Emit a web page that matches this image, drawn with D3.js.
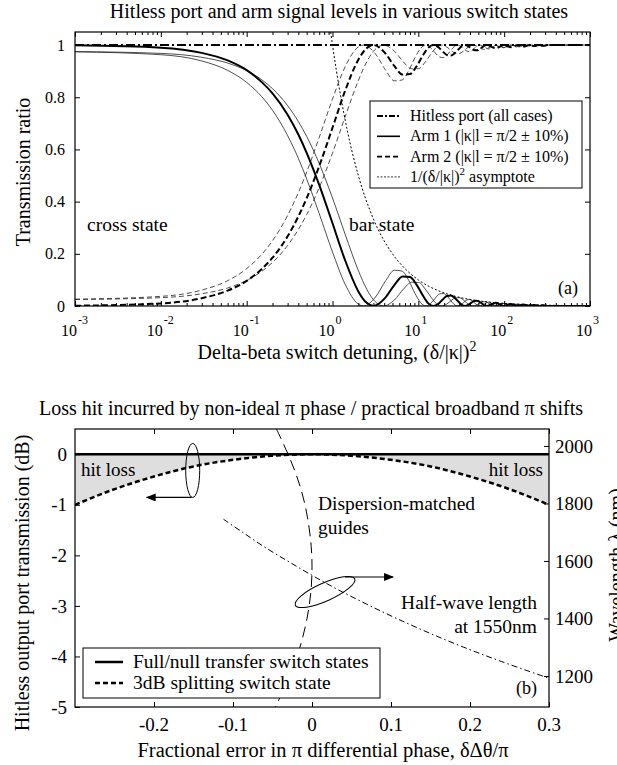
<!DOCTYPE html>
<html>
<head>
<meta charset="utf-8">
<script src="https://cdn.jsdelivr.net/npm/d3@7"></script>
<style>
  body { margin: 0; background: #fff; }
  text { font-family: "Liberation Serif", "Times New Roman", serif; fill: #000; }
</style>
</head>
<body>
<svg id="fig" width="617" height="765"></svg>
<script>
// ---------- panel (a): coupler transmission vs detuning (delta/|kappa|)^2 ----------
// |kappa|l = 0.9 * pi/2
const detune09 = [0.001, 0.01, 0.03, 0.06, 0.1, 0.15, 0.2, 0.3, 0.4, 0.5, 0.7, 1.0, 1.4, 2.0, 2.5, 3.0, 3.94, 5.25, 6.72, 8.34, 10.11, 12.04, 14.12, 16.36, 18.75, 21.3, 24, 26.85, 29.86, 33.03, 36.35, 39.82, 43.44, 47.23, 51.16, 55.25, 59.49, 63.89, 68.44, 73.15, 78.01, 88.2, 99, 110.4, 122.5, 148.4, 176.8, 207.6, 241, 276.8, 315, 1000];
const arm1k09 = [0.975, 0.968, 0.953, 0.931, 0.902, 0.867, 0.833, 0.768, 0.707, 0.650, 0.546, 0.414, 0.276, 0.136, 0.065, 0.024, 0, 0.023, 0.065, 0.091, 0.090, 0.065, 0.033, 0.008, 0, 0.007, 0.020, 0.031, 0.032, 0.025, 0.013, 0.004, 0, 0.003, 0.010, 0.015, 0.017, 0.013, 0.007, 0.002, 0, 0.006, 0.010, 0.004, 0, 0.007, 0, 0.005, 0, 0.004, 0, 0];
const arm2k09 = [0.025, 0.032, 0.047, 0.069, 0.098, 0.133, 0.167, 0.232, 0.293, 0.350, 0.454, 0.586, 0.724, 0.864, 0.935, 0.976, 1, 0.977, 0.935, 0.909, 0.910, 0.935, 0.967, 0.992, 1, 0.993, 0.980, 0.969, 0.968, 0.975, 0.987, 0.996, 1, 0.997, 0.990, 0.985, 0.983, 0.987, 0.993, 0.998, 1, 0.994, 0.990, 0.996, 1, 0.993, 1, 0.995, 1, 0.996, 1, 1];

// |kappa|l = pi/2
const detune10 = [0.001, 0.01, 0.03, 0.06, 0.1, 0.15, 0.2, 0.3, 0.4, 0.5, 0.7, 1.0, 1.4, 2.0, 2.5, 3, 4.06, 5.25, 6.56, 8, 9.56, 11.25, 13.06, 15, 17.06, 19.25, 21.56, 24, 26.56, 29.25, 32.06, 35, 38.06, 41.25, 44.56, 48, 51.56, 55.25, 59.06, 63, 71.25, 80, 89.25, 99, 109.3, 120, 131.3, 143, 168, 195, 224, 255, 288, 323, 1000];
const arm1k10 = [0.999, 0.990, 0.970, 0.941, 0.904, 0.858, 0.815, 0.733, 0.657, 0.587, 0.464, 0.317, 0.176, 0.056, 0.012, 0, 0.029, 0.080, 0.113, 0.111, 0.081, 0.041, 0.010, 0, 0.008, 0.025, 0.038, 0.040, 0.031, 0.017, 0.004, 0, 0.004, 0.012, 0.019, 0.020, 0.016, 0.009, 0.002, 0, 0.007, 0.012, 0.006, 0, 0.005, 0.008, 0.004, 0, 0.006, 0, 0.004, 0, 0.003, 0, 0];
const arm2k10 = [0.001, 0.010, 0.030, 0.059, 0.096, 0.142, 0.185, 0.267, 0.343, 0.413, 0.536, 0.683, 0.824, 0.944, 0.988, 1, 0.971, 0.920, 0.887, 0.889, 0.919, 0.959, 0.990, 1, 0.992, 0.975, 0.962, 0.960, 0.969, 0.983, 0.996, 1, 0.996, 0.988, 0.981, 0.980, 0.984, 0.991, 0.998, 1, 0.993, 0.988, 0.994, 1, 0.995, 0.992, 0.996, 1, 0.994, 1, 0.996, 1, 0.997, 1, 1];

// |kappa|l = 1.1 * pi/2
const detune11 = [0.001, 0.01, 0.03, 0.06, 0.1, 0.15, 0.2, 0.3, 0.4, 0.5, 0.7, 1.0, 1.4, 2.0, 2.31, 3.18, 4.17, 5.25, 6.44, 7.73, 9.12, 10.62, 12.22, 13.93, 15.74, 17.65, 19.66, 21.78, 24, 26.32, 28.75, 31.28, 33.92, 36.66, 39.5, 42.44, 45.49, 48.64, 51.89, 58.71, 65.94, 73.59, 81.64, 90.12, 99, 108.3, 118, 138.7, 161, 185, 210.6, 237.8, 266.8, 1000];
const arm1k11 = [0.974, 0.963, 0.939, 0.903, 0.857, 0.802, 0.750, 0.653, 0.566, 0.487, 0.354, 0.207, 0.084, 0.007, 0, 0.035, 0.097, 0.137, 0.134, 0.098, 0.049, 0.013, 0, 0.010, 0.030, 0.046, 0.048, 0.037, 0.020, 0.005, 0, 0.005, 0.014, 0.023, 0.025, 0.020, 0.011, 0.003, 0, 0.008, 0.015, 0.007, 0, 0.005, 0.010, 0.005, 0, 0.007, 0, 0.005, 0, 0.004, 0, 0];
const arm2k11 = [0.026, 0.037, 0.061, 0.097, 0.143, 0.198, 0.250, 0.347, 0.434, 0.513, 0.646, 0.793, 0.916, 0.993, 1, 0.965, 0.903, 0.863, 0.866, 0.902, 0.951, 0.987, 1, 0.990, 0.970, 0.954, 0.952, 0.963, 0.980, 0.995, 1, 0.995, 0.986, 0.977, 0.975, 0.980, 0.989, 0.997, 1, 0.992, 0.985, 0.993, 1, 0.995, 0.990, 0.995, 1, 0.993, 1, 0.995, 1, 0.996, 1, 1];

// 1/(delta/|kappa|)^2 asymptote and hitless port
const asymX = [0.952, 1, 1.5, 2, 3, 5, 7, 10, 15, 20, 30, 50, 70, 100, 200, 500, 1000];
const asymY = [1.05, 1, 0.667, 0.5, 0.333, 0.2, 0.143, 0.1, 0.0667, 0.05, 0.0333, 0.02, 0.0143, 0.01, 0.005, 0.002, 0.001];
const hitlessX = [0.001, 1000];
const hitlessY = [1, 1];

const detuneTicks = [1e-3, 1e-2, 1e-1, 1, 10, 100, 1000];
const ratioTicks = [0, 0.2, 0.4, 0.6, 0.8, 1];

// ---------- panel (b): loss hit vs fractional phase error ----------
const phaseErr = [-0.3, -0.25, -0.2, -0.15, -0.1, -0.05, 0, 0.05, 0.1, 0.15, 0.2, 0.25, 0.3];
const loss3dB = [-1.00, -0.69, -0.44, -0.24, -0.11, -0.03, 0, -0.03, -0.11, -0.24, -0.44, -0.69, -1.00];
const lossFull = [0, 0, 0, 0, 0, 0, 0, 0, 0, 0, 0, 0, 0];

const dispLambda = [2059, 1950, 1850, 1750, 1650, 1580, 1500, 1400, 1300, 1200, 1092];
const dispErr = [-0.045, -0.027, -0.014, -0.0056, -0.001, 0, -0.0012, -0.0063, -0.0153, -0.0282, -0.0464];
const halfLambda = [1745, 1700, 1650, 1600, 1550, 1500, 1450, 1400, 1350, 1300, 1250, 1192];
const halfErr = [-0.112, -0.088, -0.061, -0.031, 0, 0.033, 0.069, 0.107, 0.148, 0.192, 0.240, 0.300];

const phaseTicks = [-0.2, -0.1, 0, 0.1, 0.2, 0.3];
const dbTicks = [0, -1, -2, -3, -4, -5];
const lambdaTicks = [1200, 1400, 1600, 1800, 2000];

const zip = (xs, ys) => xs.map((x, i) => [x, ys[i]]);

const svg = d3.select("#fig");

const defs = svg.append("defs");
defs.append("marker")
  .attr("id", "arrow")
  .attr("viewBox", "0 0 10 8")
  .attr("refX", 9).attr("refY", 4)
  .attr("markerWidth", 11).attr("markerHeight", 8)
  .attr("markerUnits", "userSpaceOnUse")
  .attr("orient", "auto")
  .append("path").attr("d", "M0,0 L10,4 L0,8 Z").attr("fill", "#000");

// box with inside ticks on all four sides
function drawFrame(g, x, y, box, xTicks, yTicks, xMinor, yRight, yRightTicks) {
  g.append("g").attr("transform", `translate(0,${box.bottom})`)
    .call(d3.axisBottom(x).tickValues(xTicks).tickSize(-5).tickSizeOuter(0).tickFormat(""));
  g.append("g").attr("transform", `translate(0,${box.top})`)
    .call(d3.axisTop(x).tickValues(xTicks).tickSize(-5).tickSizeOuter(0).tickFormat(""));
  if (xMinor) {
    g.append("g").attr("transform", `translate(0,${box.bottom})`)
      .call(d3.axisBottom(x).tickValues(xMinor).tickSize(-3).tickSizeOuter(0).tickFormat(""));
    g.append("g").attr("transform", `translate(0,${box.top})`)
      .call(d3.axisTop(x).tickValues(xMinor).tickSize(-3).tickSizeOuter(0).tickFormat(""));
  }
  g.append("g").attr("transform", `translate(${box.left},0)`)
    .call(d3.axisLeft(y).tickValues(yTicks).tickSize(-5).tickSizeOuter(0).tickFormat(""));
  g.append("g").attr("transform", `translate(${box.right},0)`)
    .call(d3.axisRight(yRight || y).tickValues(yRightTicks || yTicks).tickSize(-5).tickSizeOuter(0).tickFormat(""));
  g.selectAll(".domain").remove();
  g.selectAll(".tick line").attr("stroke", "#000").attr("stroke-width", 1);
  g.append("rect")
    .attr("x", box.left).attr("y", box.top)
    .attr("width", box.right - box.left).attr("height", box.bottom - box.top)
    .attr("fill", "none").attr("stroke", "#000").attr("stroke-width", 1.2);
}

// ================= panel (a) =================
function drawPanelA() {
  const box = { left: 75, right: 590, top: 32, bottom: 306 };
  const x = d3.scaleLog().domain([1e-3, 1e3]).range([box.left, box.right]);
  const y = d3.scaleLinear().domain([0, 1.05]).range([box.bottom, box.top]);
  const g = svg.append("g");

  defs.append("clipPath").attr("id", "clipA").append("rect")
    .attr("x", box.left).attr("y", box.top)
    .attr("width", box.right - box.left).attr("height", box.bottom - box.top);

  const line = d3.line().x(d => x(d[0])).y(d => y(d[1])).curve(d3.curveMonotoneX);
  const plot = g.append("g").attr("clip-path", "url(#clipA)");

  const series = [
    { d: zip(detune09, arm1k09), w: 0.8, dash: null, c: "#222" },
    { d: zip(detune11, arm1k11), w: 0.8, dash: null, c: "#222" },
    { d: zip(detune09, arm2k09), w: 0.8, dash: "5,3", c: "#222" },
    { d: zip(detune11, arm2k11), w: 0.8, dash: "5,3", c: "#222" },
    { d: zip(detune10, arm1k10), w: 2, dash: null, c: "#000" },
    { d: zip(detune10, arm2k10), w: 2, dash: "6,3", c: "#000" },
    { d: zip(asymX, asymY), w: 1, dash: "2,2", c: "#000" },
    { d: zip(hitlessX, hitlessY), w: 2, dash: "9,3,2,3", c: "#000" }
  ];
  plot.selectAll("path.curve").data(series).join("path")
    .attr("class", "curve")
    .attr("d", s => line(s.d))
    .attr("fill", "none")
    .attr("stroke", s => s.c)
    .attr("stroke-width", s => s.w)
    .attr("stroke-dasharray", s => s.dash);

  const minor = [];
  detuneTicks.slice(0, -1).forEach(t => { for (let k = 2; k < 10; k++) minor.push(t * k); });
  drawFrame(g, x, y, box, detuneTicks, ratioTicks, minor);

  // tick labels
  g.selectAll(".ylab").data(ratioTicks).join("text")
    .attr("x", box.left - 10).attr("y", d => y(d)).attr("dy", "0.35em")
    .attr("text-anchor", "end").style("font-size", "16px")
    .text(d => d3.format("")(d));
  const xl = g.selectAll(".xlab").data(detuneTicks).join("g")
    .attr("transform", d => `translate(${x(d)},0)`);
  xl.append("text").attr("x", 2).attr("y", 336).attr("text-anchor", "end")
    .style("font-size", "16px").text("10");
  xl.append("text").attr("x", 3).attr("y", 324).attr("text-anchor", "start")
    .style("font-size", "12px").text(d => Math.round(Math.log10(d)));

  // titles
  svg.append("text").attr("x", 339).attr("y", 18).attr("text-anchor", "middle")
    .style("font-size", "20px").text("Hitless port and arm signal levels in various switch states");
  const xt = svg.append("text").attr("x", 337).attr("y", 359).attr("text-anchor", "middle")
    .style("font-size", "20px");
  xt.append("tspan").text("Delta-beta switch detuning, (δ/|κ|)");
  xt.append("tspan").attr("dy", -8).style("font-size", "14px").text("2");
  svg.append("text").attr("transform", "translate(30,172) rotate(-90)")
    .attr("text-anchor", "middle").style("font-size", "20px").text("Transmission ratio");

  g.append("text").attr("x", 87).attr("y", 231).style("font-size", "19.5px").text("cross state");
  g.append("text").attr("x", 349).attr("y", 231).style("font-size", "19.5px").text("bar state");
  g.append("text").attr("x", 578).attr("y", 294).attr("text-anchor", "end").style("font-size", "18px").text("(a)");

  // legend
  const lg = g.append("g").attr("transform", "translate(370,101)");
  lg.append("rect").attr("width", 212).attr("height", 87)
    .attr("fill", "#fff").attr("stroke", "#000").attr("stroke-width", 1);
  const legItems = [
    { w: 2, dash: "6,2,2,2", label: ["Hitless port (all cases)"] },
    { w: 1.6, dash: null, label: ["Arm 1 (|κ|l = π/2 ± 10%)"] },
    { w: 1.6, dash: "5,3", label: ["Arm 2 (|κ|l = π/2 ± 10%)"] },
    { w: 0.8, dash: "2,1.5", label: ["1/(δ/|κ|)", "2", " asymptote"] }
  ];
  const li = lg.selectAll(".li").data(legItems).join("g")
    .attr("transform", (d, i) => `translate(0,${15 + i * 20.3})`);
  li.append("line").attr("x1", 7).attr("x2", 30).attr("y1", 0).attr("y2", 0)
    .attr("stroke", "#000").attr("stroke-width", d => d.w).attr("stroke-dasharray", d => d.dash);
  li.each(function (d) {
    const t = d3.select(this).append("text").attr("x", 40).attr("y", 5).style("font-size", "16px");
    t.append("tspan").text(d.label[0]);
    if (d.label.length > 1) {
      t.append("tspan").attr("dy", -7).style("font-size", "11px").text(d.label[1]);
      t.append("tspan").attr("dy", 7).text(d.label[2]);
    }
  });
}

// ================= panel (b) =================
function drawPanelB() {
  const box = { left: 75, right: 549, top: 429, bottom: 707 };
  const x = d3.scaleLinear().domain([-0.3, 0.3]).range([box.left, box.right]);
  const y = d3.scaleLinear().domain([-5, 0.5]).range([box.bottom, box.top]);
  const yR = d3.scaleLinear().domain([1092, 2059]).range([box.bottom, box.top]);
  const g = svg.append("g");

  defs.append("clipPath").attr("id", "clipB").append("rect")
    .attr("x", box.left).attr("y", box.top)
    .attr("width", box.right - box.left).attr("height", box.bottom - box.top);
  const plot = g.append("g").attr("clip-path", "url(#clipB)");

  const lossRows = phaseErr.map((e, i) => ({ e: e, full: lossFull[i], split: loss3dB[i] }));
  plot.append("path").datum(lossRows)
    .attr("d", d3.area().x(d => x(d.e)).y0(d => y(d.full)).y1(d => y(d.split)).curve(d3.curveMonotoneX))
    .attr("fill", "#dedede");

  plot.append("path").datum(zip(dispErr, dispLambda))
    .attr("d", d3.line().x(d => x(d[0])).y(d => yR(d[1])).curve(d3.curveCatmullRom))
    .attr("fill", "none").attr("stroke", "#000").attr("stroke-width", 1)
    .attr("stroke-dasharray", "11,6");
  plot.append("path").datum(zip(halfErr, halfLambda))
    .attr("d", d3.line().x(d => x(d[0])).y(d => yR(d[1])).curve(d3.curveCatmullRom))
    .attr("fill", "none").attr("stroke", "#000").attr("stroke-width", 1)
    .attr("stroke-dasharray", "6,3,1.5,3");

  plot.append("path").datum(lossRows)
    .attr("d", d3.line().x(d => x(d.e)).y(d => y(d.full)))
    .attr("fill", "none").attr("stroke", "#000").attr("stroke-width", 2.5);
  plot.append("path").datum(lossRows)
    .attr("d", d3.line().x(d => x(d.e)).y(d => y(d.split)).curve(d3.curveMonotoneX))
    .attr("fill", "none").attr("stroke", "#000").attr("stroke-width", 2.5)
    .attr("stroke-dasharray", "5,3");

  drawFrame(g, x, y, box, phaseTicks, dbTicks, null, yR, lambdaTicks);

  g.selectAll(".ylab").data(dbTicks).join("text")
    .attr("x", box.left - 8).attr("y", d => y(d)).attr("dy", "0.35em")
    .attr("text-anchor", "end").style("font-size", "19px").text(d => d);
  g.selectAll(".rlab").data(lambdaTicks).join("text")
    .attr("x", box.right + 6).attr("y", d => yR(d)).attr("dy", "0.35em")
    .style("font-size", "19px").text(d => d);
  g.selectAll(".xlab").data(phaseTicks).join("text")
    .attr("x", d => x(d)).attr("y", 731).attr("text-anchor", "middle")
    .style("font-size", "19px").text(d => d);

  svg.append("text").attr("x", 311).attr("y", 415).attr("text-anchor", "middle")
    .style("font-size", "20px").text("Loss hit incurred by non-ideal π phase / practical broadband π shifts");
  svg.append("text").attr("x", 323).attr("y", 757).attr("text-anchor", "middle")
    .style("font-size", "20.5px").text("Fractional error in π differential phase, δΔθ/π");
  svg.append("text").attr("transform", "translate(29,583) rotate(-90)")
    .attr("text-anchor", "middle").style("font-size", "20px").text("Hitless output port transmission (dB)");
  svg.append("text").attr("transform", "translate(623,565) rotate(-90)")
    .attr("text-anchor", "middle").style("font-size", "20px").text("Wavelength λ  (nm)");

  g.append("text").attr("x", 81).attr("y", 476).style("font-size", "19px").text("hit loss");
  g.append("text").attr("x", 543).attr("y", 476).attr("text-anchor", "end").style("font-size", "19px").text("hit loss");
  g.append("text").attr("x", 318).attr("y", 510).style("font-size", "19.5px").text("Dispersion-matched");
  g.append("text").attr("x", 318).attr("y", 534).style("font-size", "19.5px").text("guides");
  g.append("text").attr("x", 537).attr("y", 609).attr("text-anchor", "end").style("font-size", "19.5px").text("Half-wave length");
  g.append("text").attr("x", 537).attr("y", 633).attr("text-anchor", "end").style("font-size", "19.5px").text("at 1550nm");
  g.append("text").attr("x", 537).attr("y", 694).attr("text-anchor", "end").style("font-size", "18px").text("(b)");

  // ellipse callouts with arrows pointing to the relevant axis
  const ex1 = x(-0.151), ey1 = y(-0.32);
  g.append("ellipse").attr("cx", ex1).attr("cy", ey1).attr("rx", 7).attr("ry", 27)
    .attr("fill", "none").attr("stroke", "#000").attr("stroke-width", 1);
  g.append("line").attr("x1", ex1 - 1).attr("y1", ey1 + 27).attr("x2", ex1 - 46).attr("y2", ey1 + 27)
    .attr("stroke", "#000").attr("stroke-width", 1.2).attr("marker-end", "url(#arrow)");
  const ex2 = x(0.0165), ey2 = yR(1492);
  g.append("ellipse").attr("cx", ex2).attr("cy", ey2).attr("rx", 32.5).attr("ry", 9)
    .attr("transform", `rotate(-24,${ex2},${ey2})`)
    .attr("fill", "none").attr("stroke", "#000").attr("stroke-width", 1);
  g.append("line").attr("x1", ex2 + 20).attr("y1", ey2 - 15).attr("x2", ex2 + 68).attr("y2", ey2 - 15)
    .attr("stroke", "#000").attr("stroke-width", 1.2).attr("marker-end", "url(#arrow)");

  // legend
  const lg = g.append("g").attr("transform", "translate(83,648)");
  lg.append("rect").attr("width", 297).attr("height", 50)
    .attr("fill", "#fff").attr("stroke", "#000").attr("stroke-width", 1);
  const legItems = [
    { dash: null, label: "Full/null transfer switch states" },
    { dash: "5,3", label: "3dB splitting switch state" }
  ];
  const li = lg.selectAll(".li").data(legItems).join("g")
    .attr("transform", (d, i) => `translate(0,${14 + i * 21})`);
  li.append("line").attr("x1", 12).attr("x2", 40).attr("y1", 0).attr("y2", 0)
    .attr("stroke", "#000").attr("stroke-width", 2.5).attr("stroke-dasharray", d => d.dash);
  li.append("text").attr("x", 50).attr("y", 6).style("font-size", "19.5px").text(d => d.label);
}

drawPanelA();
drawPanelB();
</script>
</body>
</html>
